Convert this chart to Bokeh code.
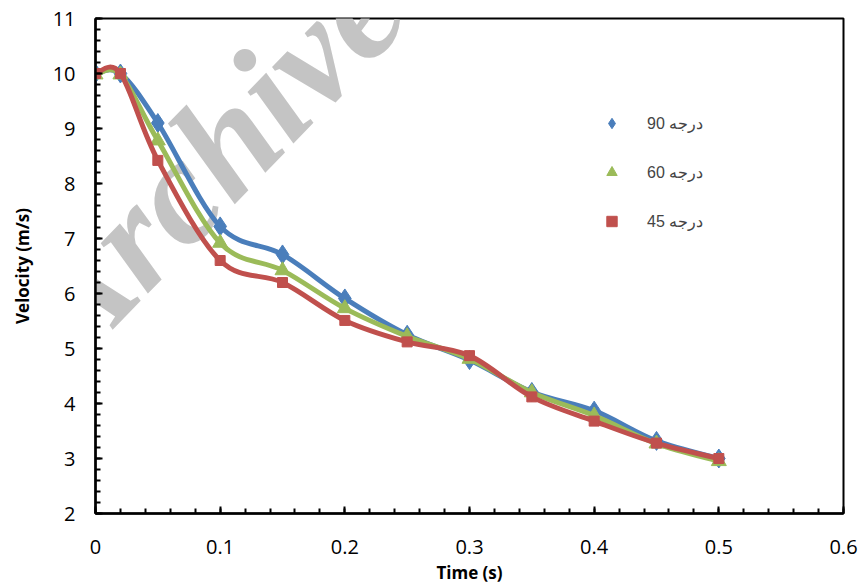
import numpy as np
from bokeh.plotting import figure
from bokeh.models import Range1d, Legend, LegendItem, Label, FixedTicker
from bokeh.embed import file_html
from bokeh.resources import INLINE

# ---- data ----
time_s = [0, 0.02, 0.05, 0.1, 0.15, 0.2, 0.25, 0.3, 0.35, 0.4, 0.45, 0.5]
v90 = [10.0, 10.0, 9.1, 7.22, 6.71, 5.91, 5.25, 4.79, 4.21, 3.87, 3.32, 3.0]
v60 = [9.98, 9.98, 8.78, 6.92, 6.42, 5.73, 5.22, 4.81, 4.2, 3.78, 3.27, 2.95]
v45 = [10.0, 10.0, 8.42, 6.6, 6.2, 5.51, 5.12, 4.87, 4.12, 3.68, 3.28, 3.0]
labels = ["درجه 90", "درجه 60", "درجه 45"]
colors = ["#4A7EBB", "#9BBB59", "#C0504D"]
x_ticks = [0, 0.1, 0.2, 0.3, 0.4, 0.5, 0.6]
y_ticks = [2, 3, 4, 5, 6, 7, 8, 9, 10, 11]

FONT = "Open Sans"

p = figure(width=861, height=586, output_backend="svg", toolbar_location=None,
           x_range=Range1d(0, 0.6), y_range=Range1d(2, 11),
           min_border_left=95, min_border_right=18, min_border_top=18,
           min_border_bottom=73)
p.grid.visible = False
p.outline_line_color = "black"
p.outline_line_width = 2
p.background_fill_color = "white"

# watermark
wm = Label(x=-0.045, y=5.3, text="Archive", angle=0.8,
           text_font="Liberation Serif", text_font_style="bold italic",
           text_font_size="150px", text_color="#c4c4c4",
           text_align="left", text_baseline="alphabetic", level="underlay")
p.add_layout(wm)


def bezier_parts(xs, ys):
    xs = np.asarray(xs, float)
    ys = np.asarray(ys, float)
    n = len(xs)
    xp = np.concatenate([[xs[0]], xs, [xs[-1]]])
    yp = np.concatenate([[ys[0]], ys, [ys[-1]]])
    x0, y0 = xs[:-1], ys[:-1]
    x1, y1 = xs[1:], ys[1:]
    cx0 = xp[1:n] + (xp[2:n + 1] - xp[0:n - 1]) / 6
    cy0 = yp[1:n] + (yp[2:n + 1] - yp[0:n - 1]) / 6
    cx1 = xp[2:n + 1] - (xp[3:n + 2] - xp[1:n]) / 6
    cy1 = yp[2:n + 1] - (yp[3:n + 2] - yp[1:n]) / 6
    return dict(x0=x0, y0=y0, x1=x1, y1=y1, cx0=cx0, cy0=cy0, cx1=cx1, cy1=cy1)


series = [v90, v60, v45]
markers = [("diamond", 19), ("triangle", 15), ("square", 10)]
items = []
for vals, col, (mk, sz), lab in zip(series, colors, markers, labels):
    p.bezier(**bezier_parts(time_s, vals), line_color=col, line_width=5)
    sc = p.scatter(time_s, vals, marker=mk, size=sz,
                   fill_color=col, line_color=col)
    ln = p.line([], [], line_color=col, line_width=5)
    items.append(LegendItem(label=lab, renderers=[ln, sc]))

legend = Legend(items=items, location=(489, 279), glyph_width=55, glyph_height=26,
                spacing=23, padding=0, margin=0, border_line_color=None,
                background_fill_alpha=0, label_text_font="Liberation Sans",
                label_text_font_size="16px", label_standoff=8)
p.add_layout(legend, "center")

for ax in (p.xaxis[0], p.yaxis[0]):
    ax.axis_line_width = 2.5
    ax.axis_line_color = "black"
    ax.major_tick_in = 7
    ax.major_tick_out = 0
    ax.minor_tick_in = 5
    ax.minor_tick_out = 0
    ax.major_tick_line_width = 2
    ax.minor_tick_line_width = 2
    ax.major_label_text_font = FONT
    ax.major_label_text_font_size = "20px"
    ax.major_label_text_color = "black"
    ax.axis_label_text_font = FONT
    ax.axis_label_text_font_size = "17px"
    ax.axis_label_text_font_style = "bold"
    ax.axis_label_text_color = "black"

p.xaxis.ticker = FixedTicker(ticks=x_ticks, minor_ticks=[i * 0.02 for i in range(31)])
p.yaxis.ticker = FixedTicker(ticks=y_ticks, minor_ticks=[2 + i * 0.2 for i in range(46)])
p.xaxis.major_label_overrides = {0: "0"}
p.xaxis.axis_label = "Time (s)"
p.yaxis.axis_label = "Velocity (m/s)"
p.xaxis.major_label_standoff = 26
p.yaxis.major_label_standoff = 20
p.xaxis.axis_label_standoff = 4
p.yaxis.axis_label_standoff = 16

open("out.html", "w").write(file_html(p, INLINE))
